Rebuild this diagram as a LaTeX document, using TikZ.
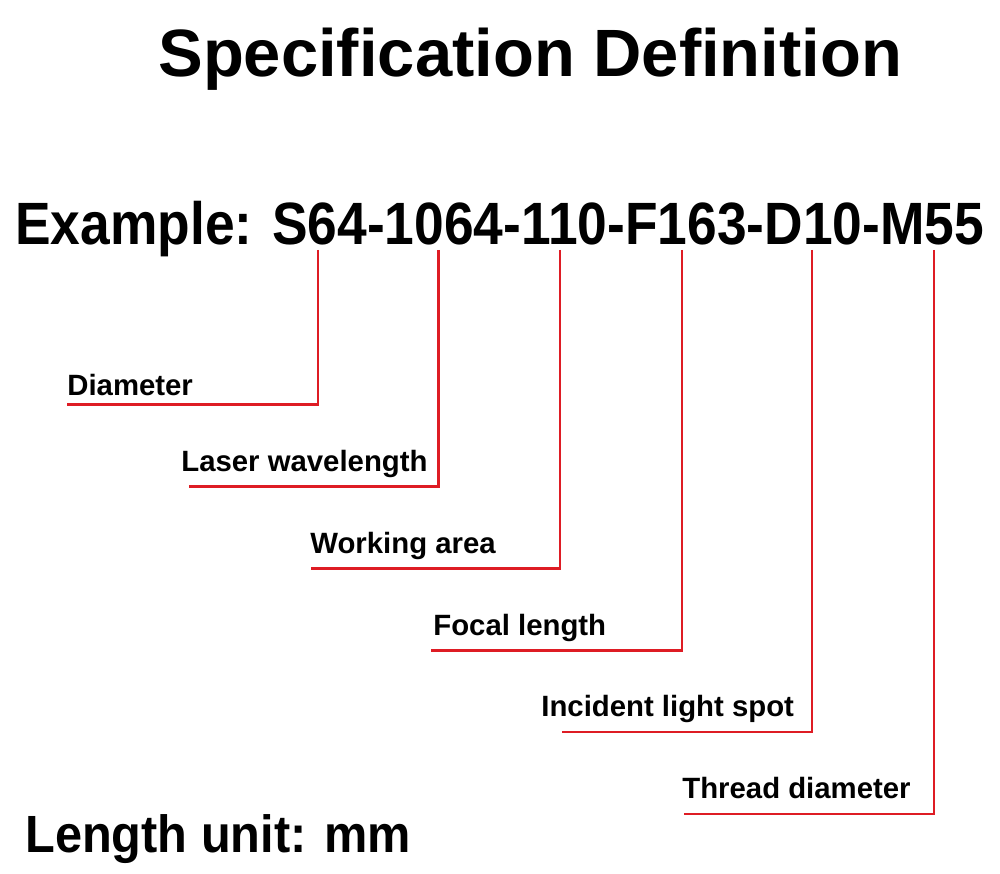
\documentclass[tikz,border=0pt]{standalone}
\usepackage{fontspec}
\setmainfont{Liberation Sans}
\definecolor{leadred}{RGB}{222,28,36}
\tikzset{
  txt/.style={anchor=base west, inner sep=0pt},
  lbl/.style={txt, font=\fontsize{16.7}{20}\selectfont\bfseries},
  lead/.style={leadred, line width=1.4pt},
}
\begin{document}
\begin{tikzpicture}[x=0.02cm,y=-0.02cm]
\useasboundingbox (0,0) rectangle (1000,874);

\node[txt, font=\fontsize{38.1}{44}\selectfont\bfseries] (title) at (158,77) {Specification Definition};
\node[txt, font=\fontsize{34}{40}\selectfont\bfseries] (code) at (15,245) {\scalebox{0.893}[1]{Example: S64-1064-110-F163-D10-M55}};

\node[lbl] (diam) at (67,395.7) {Diameter};
\node[lbl] (wave) at (181,471.7) {Laser wavelength};
\node[lbl] (area) at (310,553.3) {Working area};
\node[lbl] (focal) at (433,635) {Focal length};
\node[lbl] (spot) at (541,716.7) {Incident light spot};
\node[lbl] (thread) at (682,798.3) {Thread diameter};

\node[txt, font=\fontsize{29.8}{36}\selectfont\bfseries] (unit) at (25,852) {\scalebox{0.93}[1]{Length unit: mm}};

% points under the code
\coordinate (t1) at (318,250);
\coordinate (t2) at (438.5,250);
\coordinate (t3) at (560,250);
\coordinate (t4) at (682,250);
\coordinate (t5) at (812,250);
\coordinate (t6) at (934,250);

% free ends of the leads
\coordinate (e1) at (67,404.5);
\coordinate (e2) at (189,486.7);
\coordinate (e3) at (310.5,568.3);
\coordinate (e4) at (431,650.5);
\coordinate (e5) at (562,732);
\coordinate (e6) at (684,814);

\draw[lead] (t1) |- (e1);
\draw[lead] (t2) |- (e2);
\draw[lead] (t3) |- (e3);
\draw[lead] (t4) |- (e4);
\draw[lead] (t5) |- (e5);
\draw[lead] (t6) |- (e6);
\end{tikzpicture}
\end{document}
